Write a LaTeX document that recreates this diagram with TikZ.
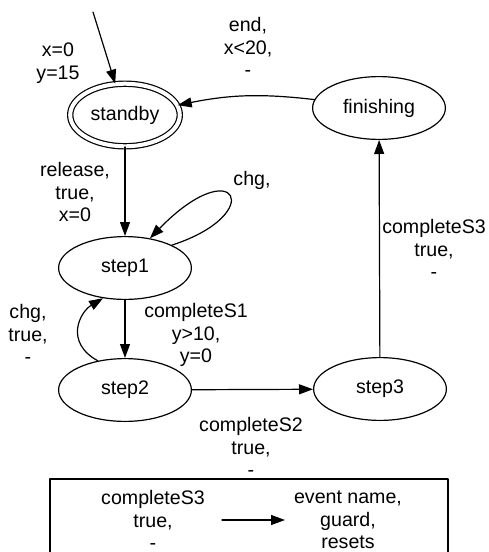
\documentclass[tikz,border=0pt]{standalone}
\usepackage{fontspec}
\setmainfont{Liberation Sans}
\usetikzlibrary{shapes.geometric,arrows.meta}
\begin{document}
\begin{tikzpicture}[x=0.5pt,y=-0.5pt,>={Triangle[length=7pt,width=5pt]}, font=\fontsize{9.8}{11.3}\selectfont, line join=round, line cap=round,
		state/.style={ellipse,draw,line width=0.6pt,minimum width=66.4pt,minimum height=31.4pt,inner sep=0pt},
		lbl/.style={align=center,inner sep=0pt},
		edge/.style={->,line width=0.6pt}]
			\useasboundingbox (0,0) rectangle (488,552);
			\clip (0,0) rectangle (488,552);
			\node[state,double,double distance=2pt,minimum width=54.8pt,minimum height=31.3pt] (standby) at (125,115) {standby};
			\node[state] (finishing) at (379,108) {finishing};
			\node[state] (step1) at (125,268) {step1};
			\node[state] (step2) at (125,390) {step2};
			\node[state] (step3) at (380,389) {step3};
			\coordinate (init) at (93,12);
			\draw[edge] (init)--(standby);
			\draw[edge] (finishing) to[bend right=9] (standby);
			\draw[edge] (standby)--(step1);
			\draw[edge] (step1.26) .. controls (268,214) and (236,150) .. (step1.50);
			\draw[edge] (step1)--(step2);
			\draw[edge] (step2.133) .. controls (64,342) and (80,312) .. (step1.234);
			\draw[edge] (step2)--(step3);
			\draw[edge] (step3)--(finishing);
			\node[lbl] (l0) at (58,63) {x=0\\y=15};
			\node[lbl] (l1) at (248,47) {end,\\x<20,\\-};
			\node[lbl] (l2) at (75,192) {release,\\true,\\x=0};
			\node[lbl] (l3) at (252,180) {chg,};
			\node[lbl] (l4) at (196,335) {completeS1\\y>10,\\y=0};
			\node[lbl] (l5) at (28,334) {chg,\\true,\\-};
			\node[lbl] (l6) at (251,447) {completeS2\\true,\\-};
			\node[lbl] (l7) at (434,249) {completeS3\\true,\\-};
			% legend
			\draw[line width=0.6pt] (50,479) rectangle (448,570);
			\node[lbl] (key) at (153,520) {completeS3\\true,\\-};
			\node[lbl] (meaning) at (348,520) {event name,\\guard,\\resets};
			\coordinate (ka) at (222,520);
			\coordinate (kb) at (285,520);
			\draw[edge] (ka)--(kb);
		\end{tikzpicture}
\end{document}
